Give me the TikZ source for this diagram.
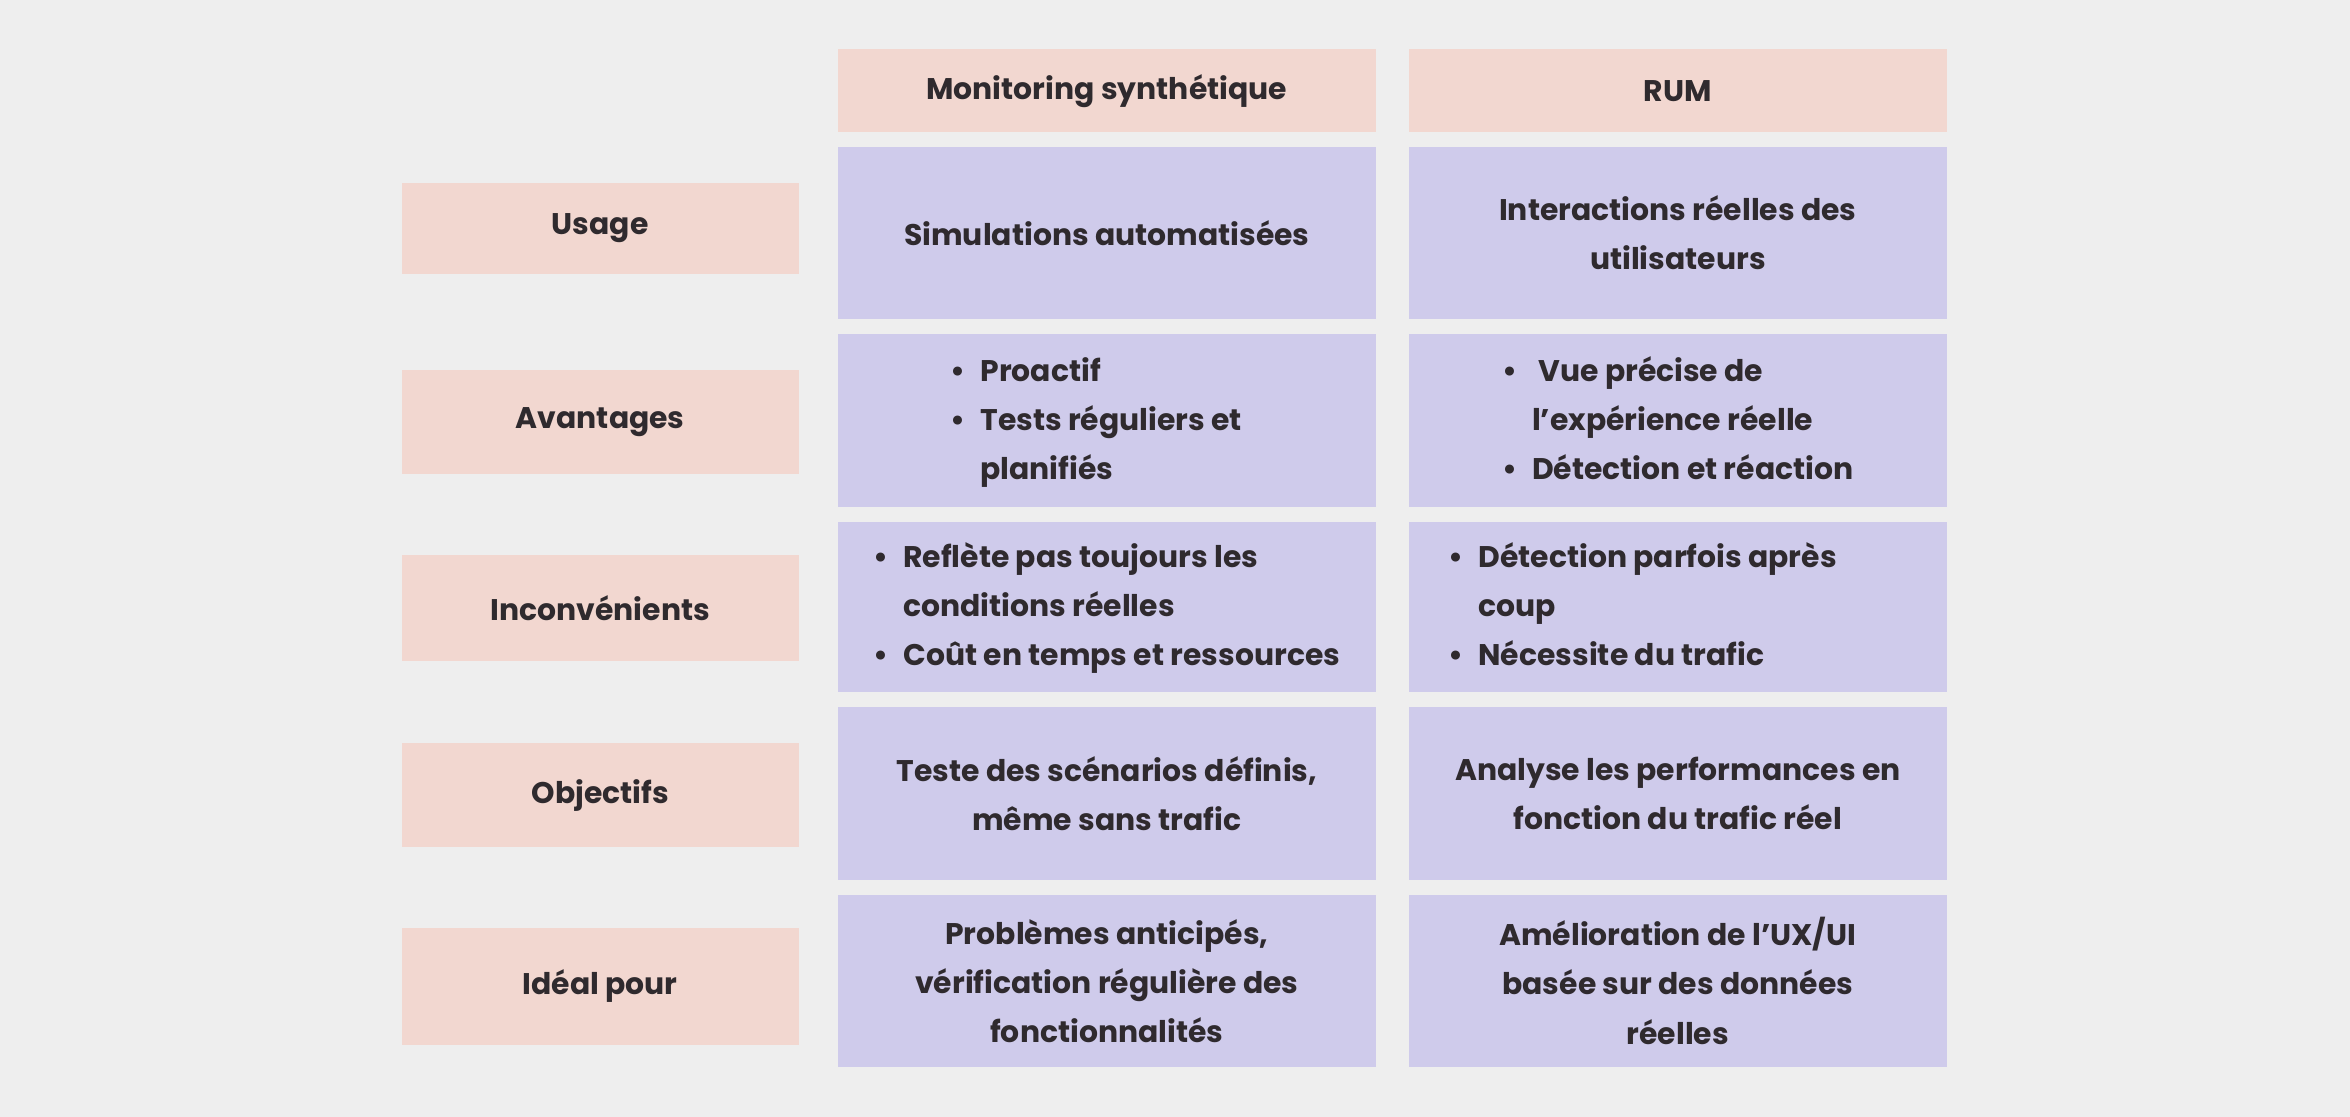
\documentclass[tikz,border=0pt]{standalone}
\usepackage{fontspec}
\setmainfont{Poppins}
\definecolor{bg}{HTML}{EEEEEE}
\definecolor{pk}{HTML}{F2D7D0}
\definecolor{lv}{HTML}{CFCBEB}
\definecolor{tx}{HTML}{2F2A2E}
\newcommand{\bl}[1]{\begin{tabular}{@{}l@{\hspace{0.5em}}l@{}}#1\end{tabular}}
\begin{document}
\begin{tikzpicture}[x=0.03cm,y=-0.03cm,
  box/.style={inner sep=0,text=tx,font=\fontsize{17}{28}\selectfont\bfseries,align=center},
  pkb/.style={box,fill=pk},
  lvb/.style={box,fill=lv}]
\fill[bg] (0,0) rectangle (1568,745);
\useasboundingbox (0,0) rectangle (1568,745);
\newcommand{\cell}[6]{\path[#2] (#3,#4) rectangle (#5,#6) node[#2,fill=none,pos=.5] (#1) {\cellt};}
% headers
\path[fill=pk] (559,33) rectangle (918,88) node[box,pos=.5] (h1) {Monitoring synthétique};
\path[fill=pk] (940,33) rectangle (1299,88) node[box,pos=.5] (h2) {RUM};
% left labels
\path[fill=pk] (268,122) rectangle (533,183) node[box,pos=.5] (l1) {Usage};
\path[fill=pk] (268,247) rectangle (533,316) node[box,pos=.5] (l2) {Avantages};
\path[fill=pk] (268,370) rectangle (533,441) node[box,pos=.5] (l3) {Inconvénients};
\path[fill=pk] (268,496) rectangle (533,565) node[box,pos=.5] (l4) {Objectifs};
\path[fill=pk] (268,619) rectangle (533,697) node[box,pos=.5] (l5) {Idéal pour};
% cells
\path[fill=lv] (559,98) rectangle (918,213) node[box,pos=.5] (a1) {Simulations automatisées};
\path[fill=lv] (940,98) rectangle (1299,213) node[box,pos=.5] (b1) {Interactions réelles des\\utilisateurs};
\path[fill=lv] (559,223) rectangle (918,338) node[box,pos=.5,xshift=-6] (a2) {\bl{\textbullet & Proactif\\ \textbullet & Tests réguliers et\\ & planifiés}};
\path[fill=lv] (940,223) rectangle (1299,338) node[box,pos=.5] (b2) {\bl{\textbullet & \ Vue précise de\\ & l'expérience réelle\\ \textbullet & Détection et réaction}};
\path[fill=lv] (559,348) rectangle (918,462) node[box,pos=.5] (a3) {\bl{\textbullet & Reflète pas toujours les\\ & conditions réelles\\ \textbullet & Coût en temps et ressources}};
\path[fill=lv] (940,348) rectangle (1299,462) node[box,pos=.5,xshift=-20] (b3) {\bl{\textbullet & Détection parfois après\\ & coup\\ \textbullet & Nécessite du trafic}};
\path[fill=lv] (559,472) rectangle (918,587) node[box,pos=.5] (a4) {Teste des scénarios définis,\\même sans trafic};
\path[fill=lv] (940,472) rectangle (1299,587) node[box,pos=.5] (b4) {Analyse les performances en\\fonction du trafic réel};
\path[fill=lv] (559,597) rectangle (918,712) node[box,pos=.5] (a5) {Problèmes anticipés,\\vérification régulière des\\fonctionnalités};
\path[fill=lv] (940,597) rectangle (1299,712) node[box,pos=.5] (b5) {Amélioration de l’UX/UI\\basée sur des données\\réelles};
\end{tikzpicture}
\end{document}
